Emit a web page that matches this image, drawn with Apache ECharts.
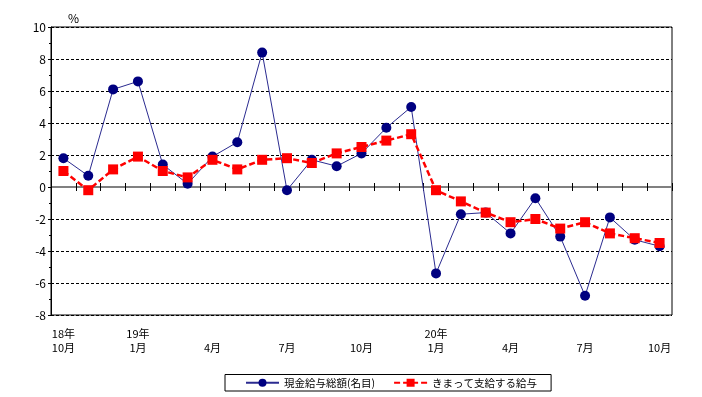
<!DOCTYPE html>
<html>
<head>
<meta charset="utf-8">
<script src="https://cdn.jsdelivr.net/npm/echarts@6/dist/echarts.min.js"></script>
<style>
  html, body { margin: 0; padding: 0; background: #fff; }
  #chart { width: 702px; height: 397px; }
</style>
</head>
<body>
<div id="chart"></div>
<script>
// months (18年10月 - 20年10月)
var months = ['18年10月', '11月', '12月', '19年1月', '2月', '3月', '4月', '5月', '6月', '7月', '8月', '9月', '10月',
    '11月', '12月', '20年1月', '2月', '3月', '4月', '5月', '6月', '7月', '8月', '9月', '10月'];
// 現金給与総額(名目) 前年同月比 %
var totalWage = [1.8, 0.7, 6.1, 6.6, 1.4, 0.2, 1.9, 2.8, 8.4, -0.2, 1.7, 1.3, 2.1,
    3.7, 5.0, -5.4, -1.7, -1.6, -2.9, -0.7, -3.1, -6.8, -1.9, -3.3, -3.7];
// きまって支給する給与 前年同月比 %
var regularWage = [1.0, -0.2, 1.1, 1.9, 1.0, 0.6, 1.7, 1.1, 1.7, 1.8, 1.5, 2.1, 2.5,
    2.9, 3.3, -0.2, -0.9, -1.6, -2.2, -2.0, -2.6, -2.2, -2.9, -3.2, -3.5];
var seriesNames = ['現金給与総額(名目)', 'きまって支給する給与'];

var font = "'Noto Sans CJK JP', sans-serif";
var chart = echarts.init(document.getElementById('chart'));

function tickLabel(value) {
    var p = value.indexOf('年');
    if (p >= 0) return value.substr(0, p + 1) + '\n' + value.substr(p + 1);
    return '\n' + value;
}

var option = {
    animation: false,
    backgroundColor: '#fff',
    title: {
        text: '%',
        left: 63,
        top: 7,
        textStyle: {fontFamily: font, fontSize: 12, fontWeight: 'normal', color: '#000'}
    },
    grid: {
        left: 51, right: 30, top: 27, bottom: 82,
        show: true, borderColor: '#000', borderWidth: 1
    },
    legend: {
        bottom: 6,
        left: 225,
        itemWidth: 33,
        itemHeight: 10,
        itemGap: 18,
        padding: [3, 14, 3, 20],
        borderColor: '#000',
        borderWidth: 1,
        borderRadius: 0,
        textStyle: {fontFamily: font, fontSize: 10.5, color: '#000'},
        data: seriesNames
    },
    xAxis: [{
        type: 'category',
        data: months,
        position: 'bottom',
        axisLine: {show: false, onZero: false},
        axisTick: {show: false},
        axisLabel: {
            interval: 2,
            fontFamily: font,
            fontSize: 11,
            color: '#000',
            lineHeight: 14,
            margin: 12,
            formatter: tickLabel
        }
    }, {
        type: 'category',
        data: months,
        position: 'bottom',
        axisLine: {show: true, onZero: true, onZeroAxisIndex: 0, lineStyle: {color: '#808080', width: 2}},
        axisTick: {show: true, interval: 0, length: 4, lineStyle: {color: '#000'}},
        axisLabel: {show: false},
        splitLine: {show: false}
    }, {
        type: 'category',
        data: months,
        position: 'top',
        axisLine: {show: false, onZero: true, onZeroAxisIndex: 1},
        axisTick: {show: true, interval: 0, length: 4, lineStyle: {color: '#000'}},
        axisLabel: {show: false},
        splitLine: {show: false}
    }],
    yAxis: [{
        type: 'value',
        min: -8,
        max: 10,
        interval: 2,
        axisLine: {show: true, lineStyle: {color: '#000'}},
        axisTick: {show: true, length: 3, lineStyle: {color: '#000'}},
        minorTick: {show: true, splitNumber: 2, length: 2, lineStyle: {color: '#000'}},
        axisLabel: {fontFamily: font, fontSize: 12, color: '#000', margin: 5},
        splitLine: {show: true, lineStyle: {color: '#000', type: [3, 2], width: 1}}
    }, {
        type: 'value',
        min: -8,
        max: 10,
        interval: 2,
        position: 'right',
        show: false
    }],
    series: [{
        name: seriesNames[0],
        type: 'line',
        data: totalWage,
        symbol: 'circle',
        symbolSize: 10,
        itemStyle: {color: '#000080'},
        lineStyle: {color: '#2b2b90', width: 1},
        z: 3
    }, {
        name: seriesNames[1],
        type: 'line',
        data: regularWage,
        symbol: 'rect',
        symbolSize: 10,
        itemStyle: {color: '#ff0000'},
        lineStyle: {color: '#ff0000', width: 2.5, type: [6, 3]},
        z: 4
    }]
};
chart.setOption(option);
</script>
</body>
</html>
